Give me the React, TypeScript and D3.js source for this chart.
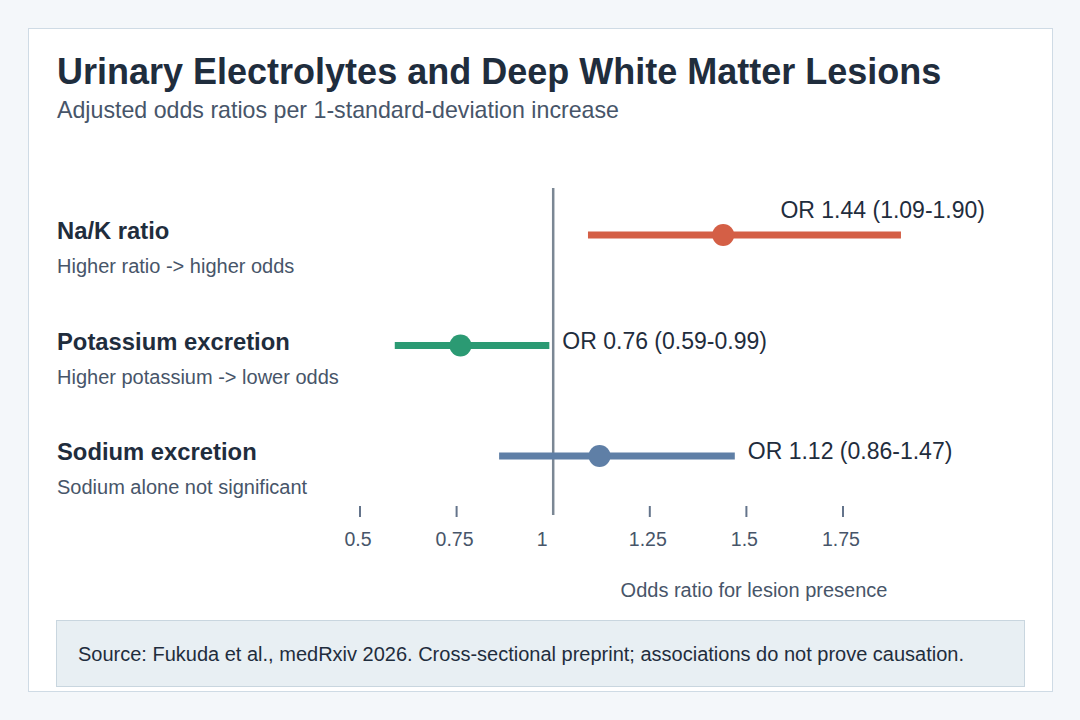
import { useRef, useEffect } from "react";
import * as d3 from "d3";

// Forest plot data
const labels = ["Na/K ratio", "Potassium excretion", "Sodium excretion"];
const notes = [
  "Higher ratio -> higher odds",
  "Higher potassium -> lower odds",
  "Sodium alone not significant",
];
const estimates = [1.44, 0.76, 1.12];
const lower = [1.09, 0.59, 0.86];
const upper = [1.9, 0.99, 1.47];
const colors = ["#d45f46", "#2b9a73", "#5f7fa6"];
const tickValues = [0.5, 0.75, 1, 1.25, 1.5, 1.75];

const FONT = "'Liberation Sans', Arial, Helvetica, sans-serif";

export default function App() {
  const svgRef = useRef<SVGSVGElement>(null);

  useEffect(() => {
    if (!svgRef.current) return;
    const svg = d3.select(svgRef.current);
    svg.selectAll("*").remove();

    const width = 1080;
    const height = 720;

    svg.attr("viewBox", `0 0 ${width} ${height}`).style("font-family", FONT);

    // page + card
    svg.append("rect").attr("width", width).attr("height", height).attr("fill", "#f4f7fa");
    svg
      .append("rect")
      .attr("x", 28.5)
      .attr("y", 28.5)
      .attr("width", 1024)
      .attr("height", 663)
      .attr("fill", "#ffffff")
      .attr("stroke", "#cfdbe5");

    // title
    svg
      .append("text")
      .attr("x", 57)
      .attr("y", 84)
      .attr("fill", "#1f2d3d")
      .attr("font-size", "36px")
      .attr("font-weight", "700")
      .text("Urinary Electrolytes and Deep White Matter Lesions");

    svg
      .append("text")
      .attr("x", 57)
      .attr("y", 118)
      .attr("fill", "#475569")
      .attr("font-size", "23.2px")
      .text("Adjusted odds ratios per 1-standard-deviation increase");

    const x = d3.scaleLinear().domain([0.5, 1.75]).range([360, 843]);
    const y = d3
      .scalePoint<string>()
      .domain(labels)
      .range([235, 456]);

    // reference line at OR = 1
    svg
      .append("line")
      .attr("x1", x(1))
      .attr("x2", x(1))
      .attr("y1", 188)
      .attr("y2", 515)
      .attr("stroke", "#7b8794")
      .attr("stroke-width", 2.5);

    // axis ticks
    const ticks = svg.append("g");
    tickValues
      .filter((v) => v !== 1)
      .forEach((v) => {
        ticks
          .append("line")
          .attr("x1", x(v))
          .attr("x2", x(v))
          .attr("y1", 506)
          .attr("y2", 517)
          .attr("stroke", "#64748b")
          .attr("stroke-width", 2);
      });
    tickValues.forEach((v) => {
      ticks
        .append("text")
        .attr("x", v === 1 ? x(v) - 11 : x(v) - 2)
        .attr("y", 546)
        .attr("text-anchor", "middle")
        .attr("fill", "#475569")
        .attr("font-size", "19.5px")
        .text(d3.format("~g")(v));
    });

    svg
      .append("text")
      .attr("x", 754)
      .attr("y", 597)
      .attr("text-anchor", "middle")
      .attr("fill", "#475569")
      .attr("font-size", "20px")
      .text("Odds ratio for lesion presence");

    // rows
    labels.forEach((lab, i) => {
      const cy = y(lab)!;
      svg
        .append("text")
        .attr("x", 57)
        .attr("y", cy + 4)
        .attr("fill", "#1f2d3d")
        .attr("font-size", "23.8px")
        .attr("font-weight", "700")
        .text(lab);
      svg
        .append("text")
        .attr("x", 57)
        .attr("y", cy + 38)
        .attr("fill", "#475569")
        .attr("font-size", "20px")
        .text(notes[i]);

      svg
        .append("line")
        .attr("x1", x(lower[i]))
        .attr("x2", x(upper[i]))
        .attr("y1", cy)
        .attr("y2", cy)
        .attr("stroke", colors[i])
        .attr("stroke-width", 7);
      svg
        .append("circle")
        .attr("cx", x(estimates[i]))
        .attr("cy", cy)
        .attr("r", 11)
        .attr("fill", colors[i]);

      const txt = `OR ${estimates[i].toFixed(2)} (${lower[i].toFixed(2)}-${upper[i].toFixed(2)})`;
      const fits = x(upper[i]) + 14 + 210 < 1000;
      svg
        .append("text")
        .attr("x", fits ? x(upper[i]) + 13 : 985)
        .attr("y", fits ? cy + 3 : cy - 17)
        .attr("text-anchor", fits ? "start" : "end")
        .attr("fill", "#1f2d3d")
        .attr("font-size", "23px")
        .text(txt);
    });

    // source box
    svg
      .append("rect")
      .attr("x", 56.5)
      .attr("y", 620.5)
      .attr("width", 968)
      .attr("height", 66)
      .attr("fill", "#e8eff3")
      .attr("stroke", "#c9d6df");
    svg
      .append("text")
      .attr("x", 78)
      .attr("y", 661)
      .attr("fill", "#1f2d3d")
      .attr("font-size", "20px")
      .text(
        "Source: Fukuda et al., medRxiv 2026. Cross-sectional preprint; associations do not prove causation."
      );
  }, []);

  return (
    <div style={{ position: "absolute", left: 0, top: 0, width: 1080, height: 720 }}>
      <svg ref={svgRef} width={1080} height={720} style={{ display: "block" }} />
    </div>
  );
}
